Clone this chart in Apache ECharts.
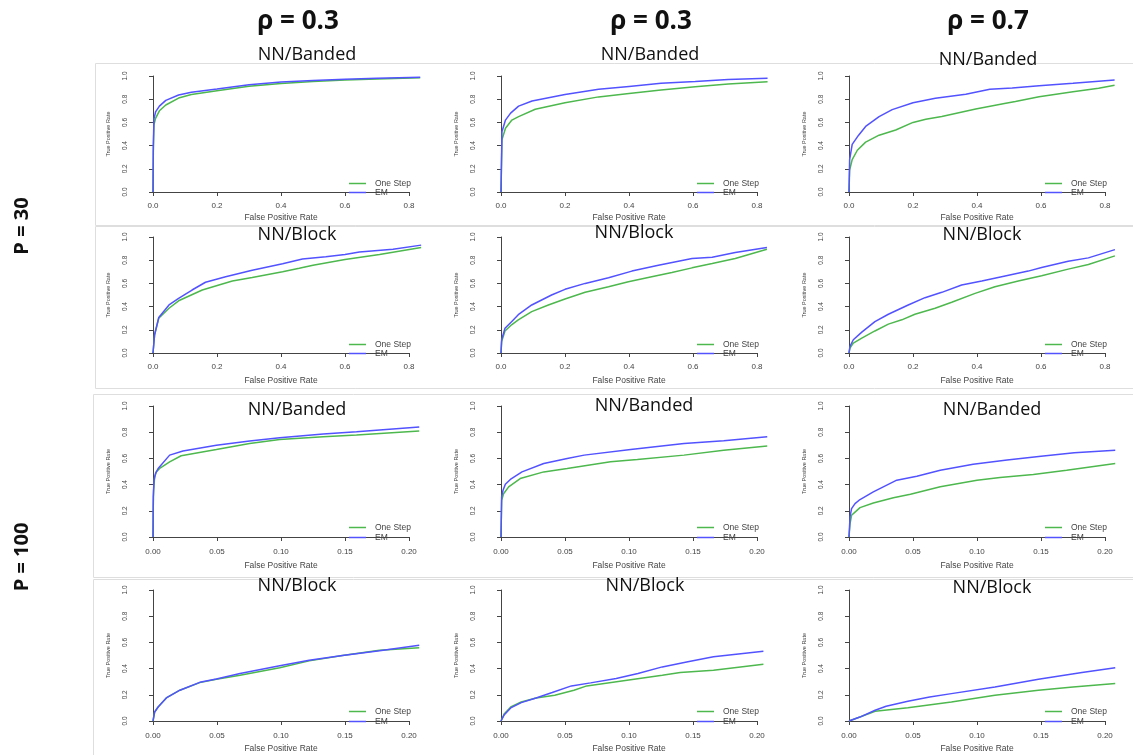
<!DOCTYPE html>
<html>
<head>
<meta charset="utf-8">
<script src="https://cdn.jsdelivr.net/npm/echarts@6/dist/echarts.min.js"></script>
<style>
  html, body { margin: 0; padding: 0; background: #fff; }
  #chart { width: 1133px; height: 755px; }
</style>
</head>
<body>
<div id="chart"></div>
<script>
// column / row headings
var colHeads = ['ρ = 0.3', 'ρ = 0.3', 'ρ = 0.7'];
var rowHeads = ['P = 30', 'P = 100'];
var panelTitles = [
  ['NN/Banded', 'NN/Banded', 'NN/Banded'],
  ['NN/Block', 'NN/Block', 'NN/Block'],
  ['NN/Banded', 'NN/Banded', 'NN/Banded'],
  ['NN/Block', 'NN/Block', 'NN/Block']
];
var seriesNames = ['One Step', 'EM'];

// ROC curves, [false positive rate, true positive rate]
// P = 30, NN/Banded
var os11 = [[0,0],[0.001,0.35],[0.003,0.58],[0.008,0.635],[0.02,0.70],[0.04,0.75],[0.08,0.81],[0.12,0.84],[0.2,0.873],[0.3,0.912],[0.4,0.935],[0.5,0.952],[0.6,0.965],[0.7,0.975],[0.835,0.985]];
var em11 = [[0,0],[0.001,0.4],[0.003,0.63],[0.008,0.69],[0.02,0.74],[0.04,0.79],[0.08,0.836],[0.12,0.86],[0.2,0.887],[0.3,0.925],[0.4,0.948],[0.5,0.962],[0.6,0.972],[0.7,0.98],[0.835,0.99]];
var os12 = [[0,0],[0.003,0.45],[0.014,0.55],[0.034,0.62],[0.055,0.65],[0.107,0.713],[0.2,0.77],[0.305,0.82],[0.4,0.85],[0.5,0.88],[0.607,0.908],[0.71,0.93],[0.833,0.95]];
var em12 = [[0,0],[0.003,0.52],[0.014,0.62],[0.03,0.68],[0.055,0.74],[0.097,0.785],[0.2,0.84],[0.305,0.885],[0.4,0.91],[0.5,0.937],[0.607,0.952],[0.71,0.97],[0.833,0.98]];
var os13 = [[0,0],[0.002,0.19],[0.01,0.28],[0.026,0.36],[0.052,0.43],[0.094,0.49],[0.146,0.535],[0.2,0.6],[0.24,0.627],[0.29,0.65],[0.396,0.716],[0.49,0.765],[0.52,0.78],[0.594,0.822],[0.7,0.865],[0.78,0.894],[0.83,0.92]];
var em13 = [[0,0],[0.002,0.28],[0.01,0.41],[0.03,0.49],[0.052,0.565],[0.094,0.65],[0.135,0.71],[0.2,0.77],[0.27,0.808],[0.365,0.842],[0.44,0.885],[0.51,0.897],[0.594,0.917],[0.7,0.937],[0.83,0.966]];
// P = 30, NN/Block
var os21 = [[0,0],[0.005,0.157],[0.018,0.3],[0.05,0.386],[0.08,0.45],[0.154,0.543],[0.206,0.586],[0.248,0.62],[0.31,0.65],[0.405,0.7],[0.457,0.73],[0.5,0.757],[0.6,0.806],[0.708,0.85],[0.838,0.91]];
var em21 = [[0,0],[0.005,0.157],[0.018,0.306],[0.05,0.414],[0.08,0.47],[0.122,0.543],[0.164,0.61],[0.227,0.657],[0.31,0.714],[0.405,0.77],[0.467,0.81],[0.54,0.83],[0.6,0.85],[0.645,0.87],[0.75,0.894],[0.838,0.93]];
var os22 = [[0,0],[0.002,0.1],[0.0125,0.19],[0.033,0.243],[0.054,0.286],[0.096,0.357],[0.148,0.414],[0.2,0.466],[0.263,0.523],[0.336,0.571],[0.398,0.614],[0.471,0.657],[0.534,0.694],[0.597,0.734],[0.66,0.771],[0.732,0.814],[0.831,0.894]];
var em22 = [[0,0],[0.002,0.114],[0.0125,0.214],[0.033,0.27],[0.054,0.33],[0.096,0.414],[0.158,0.5],[0.2,0.549],[0.263,0.6],[0.336,0.649],[0.409,0.706],[0.492,0.757],[0.597,0.814],[0.66,0.826],[0.732,0.866],[0.831,0.909]];
var os23 = [[0,0],[0.003,0.043],[0.0135,0.086],[0.04,0.129],[0.081,0.19],[0.123,0.249],[0.165,0.286],[0.206,0.334],[0.269,0.386],[0.321,0.437],[0.394,0.514],[0.456,0.571],[0.529,0.62],[0.602,0.666],[0.685,0.723],[0.748,0.763],[0.831,0.837]];
var em23 = [[0,0],[0.003,0.057],[0.0135,0.114],[0.04,0.18],[0.081,0.271],[0.123,0.334],[0.185,0.414],[0.2375,0.477],[0.29,0.523],[0.352,0.586],[0.415,0.62],[0.477,0.657],[0.56,0.706],[0.602,0.737],[0.685,0.791],[0.748,0.82],[0.831,0.891]];
// P = 100, NN/Banded
var os31 = [[0,0],[0.0002,0.23],[0.0005,0.357],[0.0013,0.46],[0.0026,0.497],[0.0052,0.523],[0.013,0.574],[0.022,0.62],[0.0495,0.668],[0.0755,0.714],[0.099,0.745],[0.133,0.765],[0.159,0.778],[0.208,0.809]];
var em31 = [[0,0],[0.0002,0.306],[0.0008,0.434],[0.002,0.485],[0.004,0.523],[0.013,0.625],[0.0234,0.656],[0.0495,0.70],[0.0755,0.732],[0.099,0.758],[0.133,0.786],[0.159,0.804],[0.208,0.84]];
var os32 = [[0,0],[0.0005,0.28],[0.002,0.33],[0.006,0.383],[0.015,0.446],[0.0334,0.497],[0.0517,0.523],[0.0856,0.574],[0.1065,0.592],[0.143,0.625],[0.174,0.663],[0.208,0.694]];
var em32 = [[0,0],[0.0005,0.306],[0.0016,0.357],[0.0034,0.403],[0.0073,0.439],[0.0164,0.497],[0.0334,0.561],[0.0517,0.6],[0.065,0.625],[0.1013,0.668],[0.143,0.714],[0.174,0.735],[0.208,0.765]];
var os33 = [[0,0],[0.0008,0.1],[0.002,0.166],[0.0047,0.19],[0.0086,0.224],[0.019,0.26],[0.0347,0.3],[0.048,0.327],[0.0713,0.383],[0.1,0.434],[0.118,0.454],[0.144,0.477],[0.17,0.51],[0.208,0.561]];
var em33 = [[0,0],[0.0008,0.153],[0.002,0.217],[0.0047,0.255],[0.0086,0.286],[0.019,0.344],[0.0373,0.434],[0.053,0.464],[0.0713,0.51],[0.097,0.556],[0.1235,0.587],[0.15,0.617],[0.176,0.643],[0.208,0.663]];
// P = 100, NN/Block
var os41 = [[0,0],[0.0013,0.069],[0.004,0.107],[0.0104,0.176],[0.021,0.235],[0.0365,0.293],[0.0495,0.319],[0.068,0.35],[0.099,0.406],[0.122,0.459],[0.148,0.5],[0.177,0.54],[0.208,0.559]];
var em41 = [[0,0],[0.0013,0.069],[0.004,0.107],[0.0104,0.176],[0.021,0.235],[0.0365,0.295],[0.0495,0.321],[0.068,0.362],[0.099,0.421],[0.122,0.464],[0.148,0.5],[0.177,0.536],[0.208,0.579]];
var os42 = [[0,0],[0.0026,0.056],[0.0076,0.107],[0.0158,0.145],[0.0274,0.176],[0.042,0.196],[0.057,0.235],[0.067,0.268],[0.093,0.304],[0.126,0.35],[0.14,0.37],[0.166,0.388],[0.205,0.434]];
var em42 = [[0,0],[0.0026,0.048],[0.0076,0.1],[0.0158,0.14],[0.0274,0.176],[0.04,0.217],[0.055,0.268],[0.07,0.291],[0.09,0.324],[0.107,0.362],[0.126,0.413],[0.146,0.452],[0.166,0.49],[0.205,0.533]];
var os43 = [[0,0],[0.0085,0.03],[0.0204,0.074],[0.046,0.102],[0.08,0.145],[0.114,0.196],[0.148,0.235],[0.175,0.26],[0.208,0.286]];
var em43 = [[0,0],[0.0085,0.03],[0.0204,0.082],[0.029,0.112],[0.046,0.15],[0.063,0.184],[0.08,0.209],[0.114,0.26],[0.148,0.319],[0.182,0.37],[0.208,0.406]];

var panels = [
  [[os11, em11], [os12, em12], [os13, em13]],
  [[os21, em21], [os22, em22], [os23, em23]],
  [[os31, em31], [os32, em32], [os33, em33]],
  [[os41, em41], [os42, em42], [os43, em43]]
];

// layout of the pasted plots
var rowTop = [76, 237, 406, 590];
var rowH = [116, 116, 131, 131];
var colLeft = [153, 501, 849];
var xOff = [5, 5, 6, 6];
var xNameGap = [16, 18, 18, 17];
var titleX = [[307, 650, 988], [297, 634, 982], [297, 644, 992], [297, 645, 992]];
var titleY = [[55, 55, 60], [235, 233, 235], [410, 406, 410], [586, 586, 588]];
var axisLen = 256;
var axisColor = '#444';
var green = '#4db84d';
var blue = '#5252ff';

function buildOption() {
  var grids = [], xAxes = [], yAxes = [], series = [], legends = [], graphics = [];

  // light frames around each row of pasted plots
  [[95, 63, 1040, 162], [95, 226, 1040, 162], [93, 394, 1042, 183], [93, 579, 1042, 178]].forEach(function (f) {
    graphics.push({ type: 'rect', z: -10, shape: { x: f[0] + 0.5, y: f[1] + 0.5, width: f[2], height: f[3] },
      style: { fill: 'none', stroke: '#dedede', lineWidth: 1 } });
  });

  colHeads.forEach(function (t, c) {
    graphics.push({ type: 'text', x: [298, 651, 988][c], y: 22,
      style: { text: t, font: 'bold 26px "Open Sans", sans-serif', fill: '#111', textAlign: 'center', textVerticalAlign: 'middle' } });
  });
  rowHeads.forEach(function (t, r) {
    graphics.push({ type: 'text', x: 22, y: [226, 557][r], rotation: Math.PI / 2,
      style: { text: t, font: 'bold 20px "Open Sans", sans-serif', fill: '#111', textAlign: 'center', textVerticalAlign: 'middle' } });
  });

  var k = 0;
  for (var r = 0; r < 4; r++) {
    for (var c = 0; c < 3; c++) {
      var wide = r < 2;
      var xEnd = wide ? 0.8 : 0.2;
      var xMax = wide ? 0.84 : 0.21;
      var gLeft = colLeft[c], gTop = rowTop[r], h = rowH[r];
      var dec = wide ? 1 : 2;

      // axes grid (axis lines run from first to last tick)
      grids.push({ left: gLeft, top: gTop, width: axisLen, height: h });
      // data grid
      grids.push({ left: gLeft, top: gTop, width: axisLen * xMax / xEnd, height: h });

      xAxes.push({
        gridIndex: 2 * k, type: 'value', min: 0, max: xEnd, interval: xEnd / 4, offset: xOff[r],
        name: 'False Positive Rate', nameLocation: 'middle', nameGap: xNameGap[r],
        nameTextStyle: { fontSize: 8.5, color: axisColor, fontFamily: 'Liberation Sans' },
        axisLine: { show: true, lineStyle: { color: axisColor, width: 1 } },
        axisTick: { show: true, length: 4, lineStyle: { color: axisColor } },
        axisLabel: { fontSize: 8, color: axisColor, margin: 5, fontFamily: 'Liberation Sans',
          formatter: (function (d) { return function (v) { return v.toFixed(d); }; })(dec) },
        splitLine: { show: false }
      });
      xAxes.push({ gridIndex: 2 * k + 1, type: 'value', min: 0, max: xMax, show: false });

      yAxes.push({
        gridIndex: 2 * k, type: 'value', min: 0, max: 1, interval: 0.2, offset: 10,
        name: 'True Positive Rate', nameLocation: 'middle', nameGap: 32,
        nameTextStyle: { fontSize: 5.5, color: axisColor, fontFamily: 'Liberation Sans' },
        axisLine: { show: true, lineStyle: { color: axisColor, width: 1 } },
        axisTick: { show: true, length: 4, lineStyle: { color: axisColor } },
        axisLabel: { rotate: 90, fontSize: 6.5, color: axisColor, margin: 14, fontFamily: 'Liberation Sans',
          formatter: function (v) { return v.toFixed(1); } },
        splitLine: { show: false }
      });
      yAxes.push({ gridIndex: 2 * k + 1, type: 'value', min: 0, max: 1, show: false });

      var pair = panels[r][c];
      series.push({
        name: seriesNames[0], type: 'line', xAxisIndex: 2 * k + 1, yAxisIndex: 2 * k + 1,
        data: pair[0], symbol: 'none', lineStyle: { color: green, width: 1.5 }, itemStyle: { color: green }
      });
      series.push({
        name: seriesNames[1], type: 'line', xAxisIndex: 2 * k + 1, yAxisIndex: 2 * k + 1,
        data: pair[1], symbol: 'none', lineStyle: { color: blue, width: 1.5 }, itemStyle: { color: blue }
      });

      legends.push({
        left: gLeft + 196, top: gTop + h - (wide ? 13 : 14), orient: 'vertical', padding: 0,
        icon: 'rect', itemWidth: 17, itemHeight: 1.5, itemGap: wide ? 0 : 1, selectedMode: false,
        data: seriesNames,
        textStyle: { fontSize: 8.5, lineHeight: 6, color: axisColor, fontFamily: 'Liberation Sans', padding: [0, 0, 0, 4] }
      });

      graphics.push({ type: 'text', x: titleX[r][c], y: titleY[r][c],
        style: { text: panelTitles[r][c], font: '18px "Open Sans", sans-serif', fill: '#111', textAlign: 'center', textVerticalAlign: 'middle' } });
      k++;
    }
  }

  return {
    animation: false,
    backgroundColor: '#fff',
    grid: grids,
    xAxis: xAxes,
    yAxis: yAxes,
    legend: legends,
    series: series,
    graphic: graphics
  };
}

var myChart = echarts.init(document.getElementById('chart'));
myChart.setOption(buildOption());
</script>
</body>
</html>
